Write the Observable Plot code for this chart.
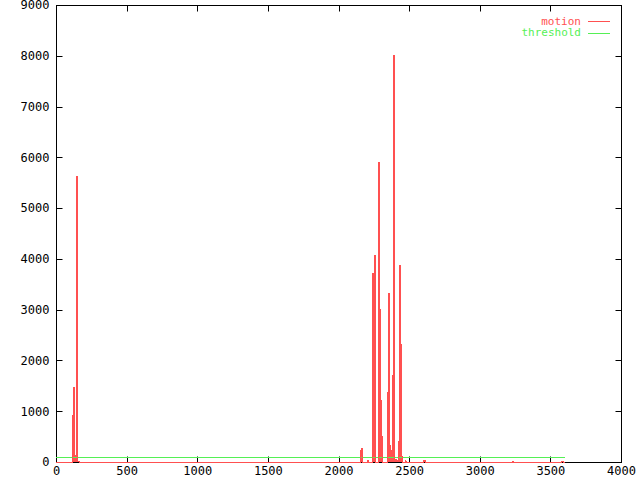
<!DOCTYPE html>
<html><head><meta charset="utf-8">
<script src="https://cdn.jsdelivr.net/npm/d3@7"></script>
<script src="https://cdn.jsdelivr.net/npm/@observablehq/plot@0.6"></script>
<style>body{margin:0;background:#fff} #chart{width:640px;height:480px}</style>
</head><body><div id="chart"></div>
<script>
// motion series (time, value), held until the next sample
const motionT = [0, 116, 123, 130, 140, 146, 152, 160, 2150, 2157, 2164, 2205, 2212, 2235, 2242, 2249, 2256, 2278, 2285, 2292, 2299, 2306, 2343, 2350, 2357, 2364, 2371, 2379, 2386, 2393, 2400, 2407, 2414, 2421, 2428, 2433, 2440, 2447, 2470, 2477, 2598, 2612, 3225, 3232, 3578, 3592, 3600];
const motionV = [0, 925, 1476, 145, 5630, 40, 20, 0, 235, 275, 0, 30, 0, 3720, 3690, 4080, 0, 5905, 3010, 1220, 510, 0, 1385, 3335, 335, 236, 150, 1710, 8010, 40, 50, 20, 40, 410, 3880, 2320, 120, 0, 30, 0, 40, 0, 20, 0, 20, 0, 0];
const thresholdT = [0, 3600];
const thresholdV = [100, 100];
const xTicks = [0, 500, 1000, 1500, 2000, 2500, 3000, 3500, 4000];
const yTicks = [0, 1000, 2000, 3000, 4000, 5000, 6000, 7000, 8000, 9000];
const seriesNames = ["motion", "threshold"];
const seriesColors = ["#ff5050", "#55f055"];

const motion = motionT.map((t, i) => ({t, v: motionV[i]}));
const threshold = thresholdT.map((t, i) => ({t, v: thresholdV[i]}));

const chart = Plot.plot({
  width: 640, height: 480,
  marginLeft: 56, marginRight: 19, marginTop: 5, marginBottom: 18,
  style: {fontFamily: "DejaVu Sans Mono", fontSize: "12px", background: "#fff", color: "#000"},
  x: {domain: [0, 4000], ticks: xTicks},
  y: {domain: [0, 9000], ticks: yTicks},
  marks: [
    Plot.frame({stroke: "#000"}),
    Plot.axisX(xTicks, {anchor: "bottom", tickSize: 0, tickPadding: 4, label: null, tickFormat: d => String(d)}),
    Plot.axisY(yTicks, {anchor: "left", tickSize: 0, tickPadding: 7, label: null, tickFormat: d => String(d)}),
    Plot.line(threshold, {x: "t", y: "v", stroke: seriesColors[1], strokeWidth: 1, shapeRendering: "crispEdges"}),
    Plot.areaY(motion, {x: "t", y: "v", fill: seriesColors[0], curve: "step-after", shapeRendering: "crispEdges"}),
    Plot.line(motion, {x: "t", y: "v", stroke: seriesColors[0], strokeWidth: 1, curve: "step-after", shapeRendering: "crispEdges"})
  ]
});
document.getElementById("chart").appendChild(chart);

// inward ticks on all four sides, placed with the chart's own scales
const sx = chart.scale("x"), sy = chart.scale("y");
const svg = d3.select(chart);
const L = 56, R = 640 - 19, T = 5, B = 480 - 18, TS = 6;
const tg = svg.append("g").attr("stroke", "#000").attr("transform", "translate(0.5,0.5)");
xTicks.forEach(t => {
  const x = Math.round(sx.apply(t));
  tg.append("line").attr("x1", x).attr("x2", x).attr("y1", B).attr("y2", B - TS);
  tg.append("line").attr("x1", x).attr("x2", x).attr("y1", T).attr("y2", T + TS);
});
yTicks.forEach(t => {
  const y = Math.round(sy.apply(t));
  tg.append("line").attr("y1", y).attr("y2", y).attr("x1", L).attr("x2", L + TS);
  tg.append("line").attr("y1", y).attr("y2", y).attr("x1", R).attr("x2", R - TS);
});
// keep the data lines above the ticks and frame
svg.selectAll("g[aria-label='area']").raise();
svg.selectAll("g[aria-label='line']").raise();

// legend (gnuplot style, top right inside the frame)
const lg = svg.append("g").attr("font-family", "DejaVu Sans Mono").attr("font-size", "11px");
seriesNames.forEach((name, i) => {
  const y = 21 + i * 11.5;
  lg.append("text").attr("x", 581).attr("y", y).attr("dy", "0.35em")
    .attr("text-anchor", "end").attr("fill", seriesColors[i]).text(name);
  lg.append("line").attr("x1", 588).attr("x2", 610).attr("y1", Math.round(y) + 0.5).attr("y2", Math.round(y) + 0.5)
    .attr("stroke", seriesColors[i]);
});
</script>
</body></html>
